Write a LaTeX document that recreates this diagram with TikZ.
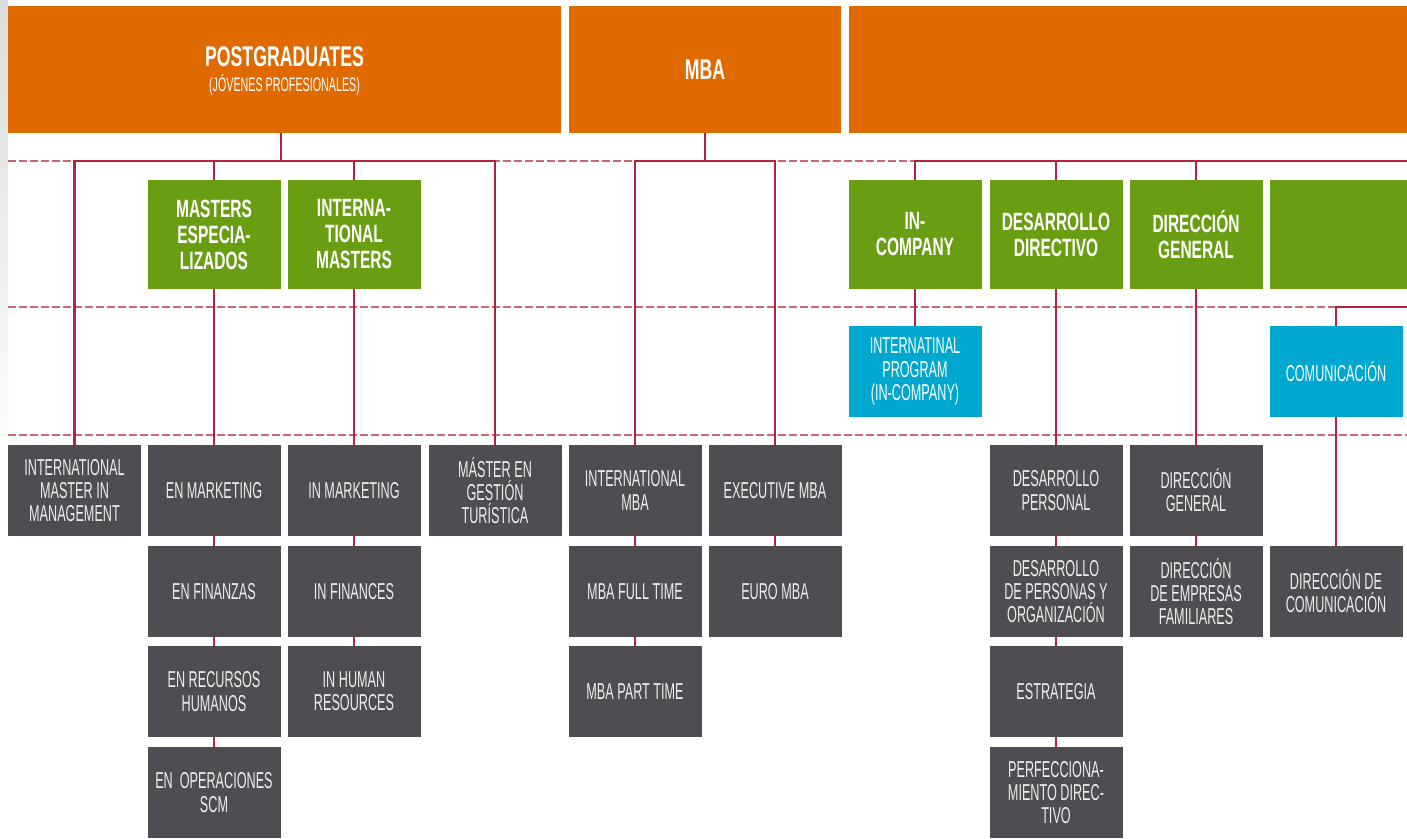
\documentclass[tikz,border=0pt]{standalone}
\usepackage{fontspec}
\newfontfamily\cf{Liberation Sans}[FakeStretch=0.62]
\newfontfamily\lf{Liberation Sans}[FakeStretch=0.55]
\definecolor{orng}{HTML}{E06A00}
\definecolor{grn}{HTML}{6A9E12}
\definecolor{blu}{HTML}{00A7CE}
\definecolor{gry}{HTML}{4F4D52}
\definecolor{crim}{HTML}{B3243F}
\definecolor{txtg}{HTML}{EEEEEE}
\tikzset{
  box/.style={draw=none, inner sep=0pt, align=center, text=white, anchor=center},
  obox/.style={box, fill=orng, minimum height=127pt},
  grbox/.style={box, fill=grn, minimum width=133pt, minimum height=109pt, font=\cf\bfseries\fontsize{25}{26}\selectfont},
  bbox/.style={box, fill=blu, minimum width=133pt, minimum height=91pt, font=\lf\fontsize{23}{23.5}\selectfont},
  gbox/.style={box, fill=gry, minimum width=133pt, minimum height=91pt, text=txtg, font=\lf\fontsize{23}{23.2}\selectfont},
  conn/.style={draw=crim, line width=2.2pt},
  guide/.style={draw=crim!70, line width=1.2pt, dash pattern=on 8pt off 3pt}
}
\begin{document}
\begin{tikzpicture}[x=1pt,y=-1pt]
\useasboundingbox (0,0) rectangle (1407,838);
\fill[white] (0,0) rectangle (1407,838);
\shade[top color=gray!28, bottom color=gray!22!green!3] (0,0) rectangle (8,437);

% guide lines
\draw[guide] (8,161) -- (1407,161);
\draw[guide] (8,307) -- (1407,307);
\draw[guide] (8,435) -- (1407,435);

% top level
\node[obox, minimum width=553pt] (pg) at (284.5,69.5) {};
\node[box, font=\cf\bfseries\fontsize{28.5}{28}\selectfont] (pgt) at (284.5,57) {POSTGRADUATES};
\node[box, font=\lf\fontsize{19.5}{19}\selectfont] (pgs) at (284.5,85.5) {(JÓVENES PROFESIONALES)};
\node[obox, minimum width=272pt, font=\cf\bfseries\fontsize{28.5}{28}\selectfont] (mba) at (705,69.5) {MBA};
\node[obox, minimum width=558pt] (ex) at (1128,69.5) {};

% green
\node[grbox] (mesp) at (214,234.5) {MASTERS\\ESPECIA-\\LIZADOS};
\node[grbox] (imas) at (354,234.5) {INTERNA-\\TIONAL\\MASTERS};
\node[grbox] (inc) at (915,234.5) {IN-\\COMPANY};
\node[grbox] (dd) at (1056,234.5) {DESARROLLO\\DIRECTIVO};
\node[grbox] (dg) at (1196,234.5) {DIRECCIÓN\\GENERAL};
\node[grbox, minimum width=137pt] (g4) at (1338.5,234.5) {};

% blue
\node[bbox] (ip) at (915,371.5) {INTERNATINAL\\PROGRAM\\(IN-COMPANY)};
\node[bbox] (com) at (1336,371.5) {COMUNICACIÓN};

% gray row 1
\node[gbox] (imim) at (74.5,490.5) {INTERNATIONAL\\MASTER IN\\MANAGEMENT};
\node[gbox] (emk) at (214,490.5) {EN MARKETING};
\node[gbox] (imk) at (354,490.5) {IN MARKETING};
\node[gbox] (mgt) at (495,490.5) {MÁSTER EN\\GESTIÓN\\TURÍSTICA};
\node[gbox] (imba) at (635,490.5) {INTERNATIONAL\\MBA};
\node[gbox] (emba) at (775,490.5) {EXECUTIVE MBA};
\node[gbox] (dp) at (1056,490.5) {DESARROLLO\\PERSONAL};
\node[gbox] (dg2) at (1196,490.5) {DIRECCIÓN\\GENERAL};
% row 2
\node[gbox] (efi) at (214,591.5) {EN FINANZAS};
\node[gbox] (ifi) at (354,591.5) {IN FINANCES};
\node[gbox] (mft) at (635,591.5) {MBA FULL TIME};
\node[gbox] (euro) at (775,591.5) {EURO MBA};
\node[gbox] (dpo) at (1056,591.5) {DESARROLLO\\DE PERSONAS Y\\ORGANIZACIÓN};
\node[gbox] (def) at (1196,591.5) {DIRECCIÓN\\DE EMPRESAS\\FAMILIARES};
\node[gbox] (dcom) at (1336,591.5) {DIRECCIÓN DE\\COMUNICACIÓN};
% row 3
\node[gbox] (erh) at (214,691.5) {EN RECURSOS\\HUMANOS};
\node[gbox] (ihr) at (354,691.5) {IN HUMAN\\RESOURCES};
\node[gbox] (mpt) at (635,691.5) {MBA PART TIME};
\node[gbox] (est) at (1056,691.5) {ESTRATEGIA};
% row 4
\node[gbox] (eop) at (214,792.5) {EN\ \ OPERACIONES\\SCM};
\node[gbox] (pd) at (1056,792.5) {PERFECCIONA-\\MIENTO DIREC-\\TIVO};

% connectors: postgraduates
\coordinate (pgbus) at (281,161);
\draw[conn] (pg.south -| pgbus) -- (pgbus);
\draw[conn] (imim.north) -- (imim.north |- pgbus) -- (mgt.north |- pgbus) -- (mgt.north);
\draw[conn] (mesp.north) -- (mesp.north |- pgbus);
\draw[conn] (imas.north) -- (imas.north |- pgbus);
\draw[conn] (mesp.south) -- (emk.north);
\draw[conn] (emk.south) -- (efi.north);
\draw[conn] (efi.south) -- (erh.north);
\draw[conn] (erh.south) -- (eop.north);
\draw[conn] (imas.south) -- (imk.north);
\draw[conn] (imk.south) -- (ifi.north);
\draw[conn] (ifi.south) -- (ihr.north);

% MBA
\coordinate (mbabus) at (705,161);
\draw[conn] (mba.south) -- (mbabus);
\draw[conn] (imba.north) -- (imba.north |- mbabus) -- (emba.north |- mbabus) -- (emba.north);
\draw[conn] (imba.south) -- (mft.north);
\draw[conn] (mft.south) -- (mpt.north);
\draw[conn] (emba.south) -- (euro.north);

% executive
\coordinate (exbus) at (915,161);
\draw[conn] (inc.north) -- (exbus) -- (exbus -| ex.east);
\draw[conn] (dd.north) -- (dd.north |- exbus);
\draw[conn] (dg.north) -- (dg.north |- exbus);
\draw[conn] (inc.south) -- (ip.north);
\draw[conn] (dd.south) -- (dp.north);
\draw[conn] (dp.south) -- (dpo.north);
\draw[conn] (dpo.south) -- (est.north);
\draw[conn] (est.south) -- (pd.north);
\draw[conn] (dg.south) -- (dg2.north);
\draw[conn] (dg2.south) -- (def.north);
\coordinate (combus) at (1336,307);
\draw[conn] (com.north) -- (combus) -- (combus -| ex.east);
\draw[conn] (com.south) -- (dcom.north);
\end{tikzpicture}
\end{document}
